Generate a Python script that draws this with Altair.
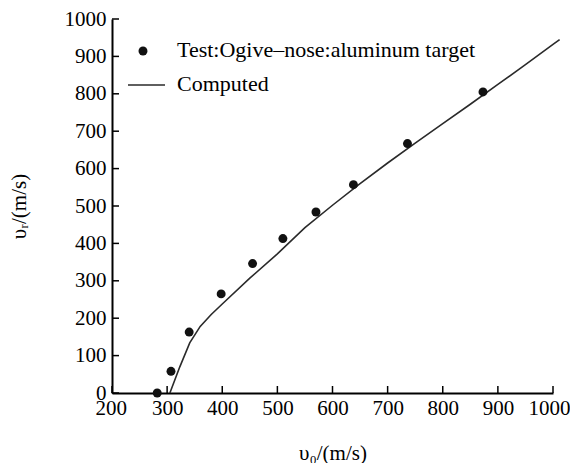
import altair as alt
import pandas as pd

# Test data: Ogive-nose, aluminum target
test_v0 = [282, 307, 340, 398, 455, 510, 570, 638, 736, 873]
test_vr = [0, 58, 163, 265, 346, 413, 484, 557, 667, 805]

# Computed curve
comp_v0 = [305, 323, 341, 360, 380, 400, 450, 500, 550, 600, 650, 700, 750, 800, 850, 900, 950, 1000, 1012]
comp_vr = [0, 70, 134, 178, 210, 238, 307, 372, 442, 502, 560, 615, 668, 720, 772, 825, 878, 932, 945]

x_ticks = [200, 300, 400, 500, 600, 700, 800, 900, 1000]
y_ticks = [0, 100, 200, 300, 400, 500, 600, 700, 800, 900, 1000]

legend_labels = ["Test:Ogive\u2013nose:aluminum target", "Computed"]

FONT = "Liberation Serif"
W, H = 441, 374

test_df = pd.DataFrame({"v0": test_v0, "vr": test_vr})
comp_df = pd.DataFrame({"v0": comp_v0, "vr": comp_vr})
xt_df = pd.DataFrame({"v0": x_ticks})
yt_df = pd.DataFrame({"vr": y_ticks})

xscale = alt.Scale(domain=[200, 1000], nice=False, zero=False)
yscale = alt.Scale(domain=[0, 1000], nice=False)

xaxis = alt.Axis(values=x_ticks, format="d", ticks=False, tickSize=0, grid=False,
                 domainColor="black", domainWidth=2,
                 labelFont=FONT, labelFontSize=21, labelColor="black", labelPadding=4,
                 labelFlush=True, labelFlushOffset=17, labelOverlap=False,
                 title="\u03c5\u2080/(m/s)", titleFont=FONT, titleFontSize=21,
                 titleFontWeight="normal", titleColor="black",
                 titleBaseline="middle", titleY=60)
yaxis = alt.Axis(values=y_ticks, format="d", ticks=False, tickSize=0, grid=False,
                 domainColor="black", domainWidth=2,
                 labelFont=FONT, labelFontSize=21, labelColor="black", labelPadding=6,
                 labelFlush=False, labelOverlap=False,
                 title="\u03c5\u1d63/(m/s)", titleFont=FONT, titleFontSize=21,
                 titleFontWeight="normal", titleColor="black",
                 titleBaseline="middle", titleAlign="center", titleAngle=-90, titleX=-93)

X = alt.X("v0:Q", scale=xscale, axis=xaxis)
Y = alt.Y("vr:Q", scale=yscale, axis=yaxis)

line = alt.Chart(comp_df).mark_line(color="#2a2a2a", strokeWidth=1.6).encode(
    x=X, y=Y, order="v0:Q",
)

pts = alt.Chart(test_df).mark_circle(color="#111111", size=80, opacity=1).encode(
    x=X, y=Y,
)

xticks = alt.Chart(xt_df).mark_rule(color="black", strokeWidth=1.5).encode(
    x=X,
    y=alt.value(H),
    y2=alt.value(H - 7),
)
yticks = alt.Chart(yt_df).mark_rule(color="black", strokeWidth=1.5).encode(
    y=Y,
    x=alt.value(0),
    x2=alt.value(7),
)

# legend
leg_dot = alt.Chart(pd.DataFrame({"a": [0]})).mark_circle(color="#111111", size=80, opacity=1).encode(
    x=alt.value(31), y=alt.value(32))
leg_line = alt.Chart(pd.DataFrame({"a": [0]})).mark_rule(color="#2a2a2a", strokeWidth=1.6).encode(
    x=alt.value(16), x2=alt.value(53), y=alt.value(66))
leg_text1 = alt.Chart(pd.DataFrame({"label": [legend_labels[0]]})).mark_text(
    font=FONT, fontSize=22, align="left", baseline="middle", color="black").encode(
    x=alt.value(65), y=alt.value(31), text="label:N")
leg_text2 = alt.Chart(pd.DataFrame({"label": [legend_labels[1]]})).mark_text(
    font=FONT, fontSize=22, align="left", baseline="middle", color="black").encode(
    x=alt.value(65), y=alt.value(65), text="label:N")

chart = alt.layer(line, pts, xticks, yticks, leg_dot, leg_line, leg_text1, leg_text2).properties(
    width=W, height=H,
    autosize=alt.AutoSizeParams(type="none"),
    padding={"left": 104, "top": 11, "right": 17, "bottom": 70},
    background="white",
).configure_view(stroke=None)

chart.save("out.html", embed_options={"renderer": "svg", "actions": False})
